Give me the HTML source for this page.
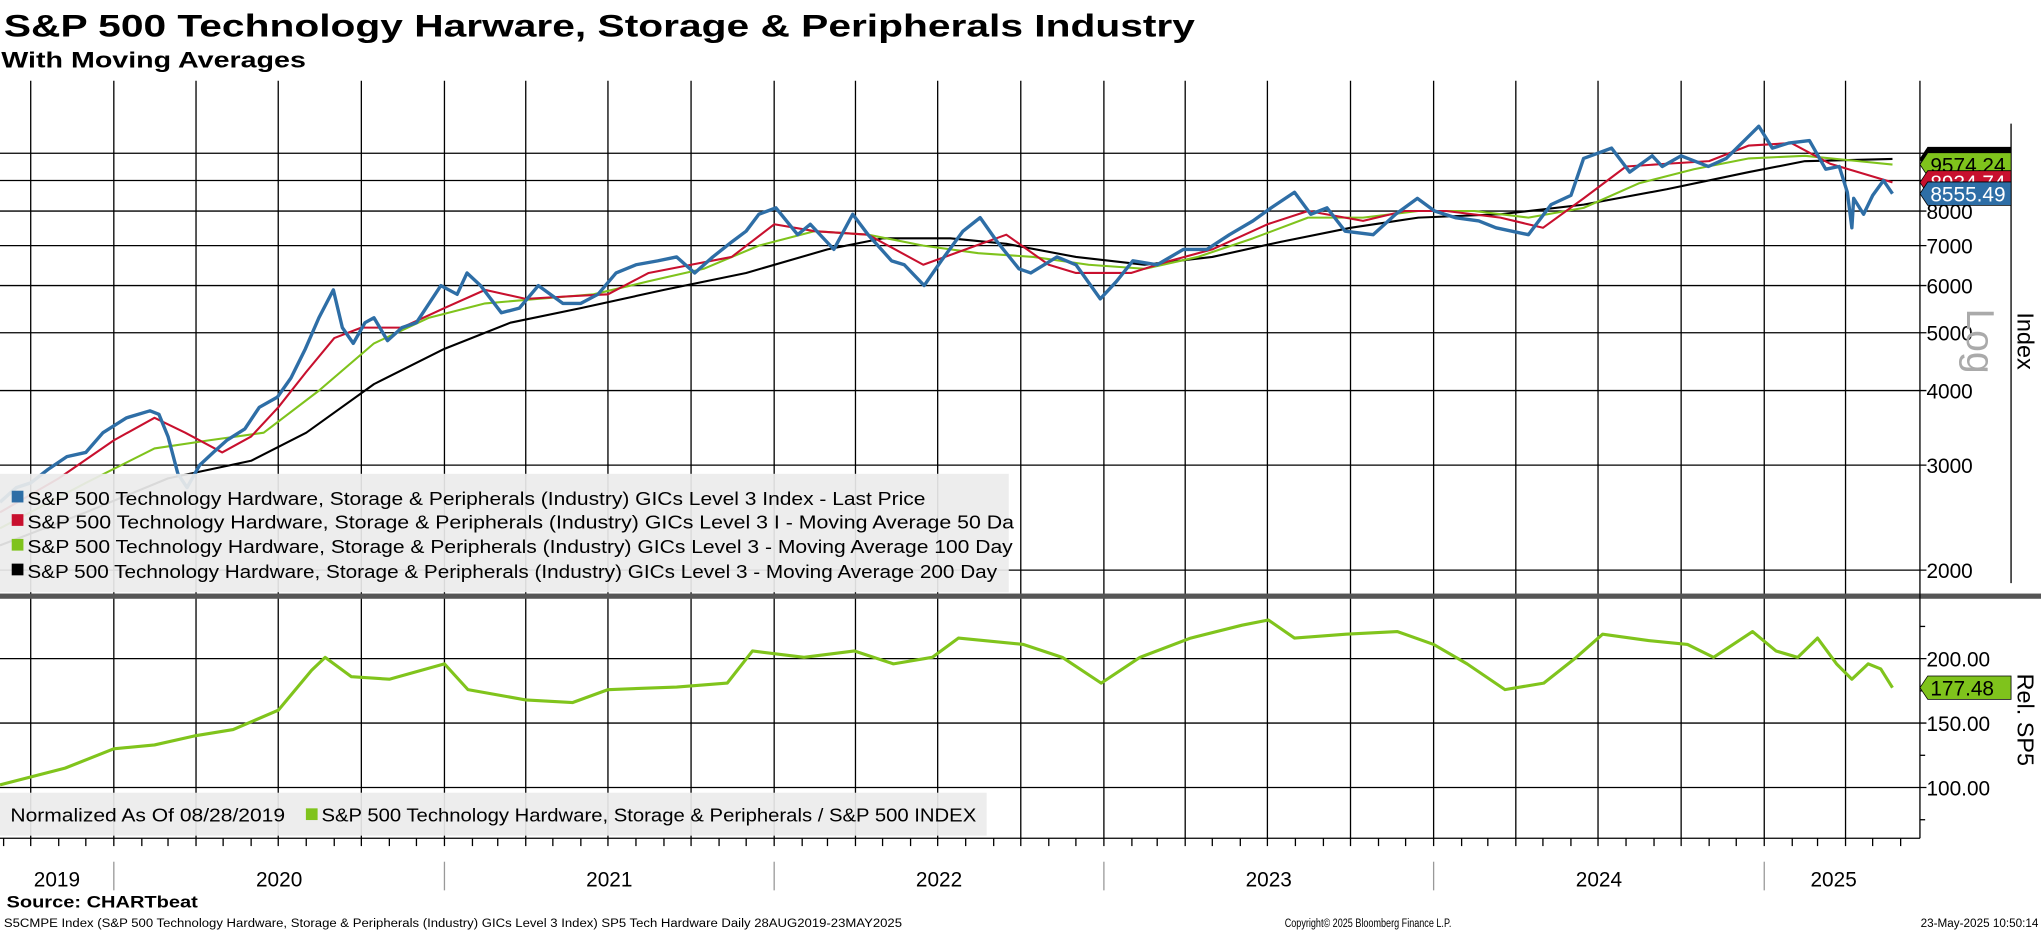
<!DOCTYPE html>
<html><head><meta charset="utf-8"><style>
html,body{margin:0;padding:0;background:#fff;}
svg{display:block;font-family:"Liberation Sans",sans-serif;}
</style></head><body>
<svg id="chart" width="2041" height="932" viewBox="0 0 1568 716" preserveAspectRatio="none" xmlns="http://www.w3.org/2000/svg">
<text x="3" y="28" font-size="24" font-weight="bold" textLength="915" lengthAdjust="spacingAndGlyphs">S&amp;P 500 Technology Harware, Storage &amp; Peripherals Industry</text>
<text x="1" y="52" font-size="17" font-weight="bold" textLength="234" lengthAdjust="spacingAndGlyphs">With Moving Averages</text>
<g id="grid"></g>
<g id="series"></g>
<rect x="0" y="456" width="1568" height="4" fill="#555"/>
<line x1="1475" y1="62" x2="1475" y2="644" stroke="#000" stroke-width="1"/>
<line x1="1545" y1="95" x2="1545" y2="448" stroke="#000" stroke-width="1"/>
<g id="labels"></g>
<text transform="translate(1511,262) rotate(90)" font-size="30" fill="#aaa" text-anchor="middle">Log</text>
<text transform="translate(1550,262) rotate(90)" font-size="18" text-anchor="middle">Index</text>
<text transform="translate(1550,553) rotate(90)" font-size="18" text-anchor="middle">Rel. SP5</text>
<g id="tags"></g>
<g>
<rect x="0" y="364" width="775" height="91" fill="#ececec" opacity="0.92"/>
<g><rect x="9" y="377" width="9" height="9" fill="#2e6ea6"/><text x="21" y="388" font-size="14.5" textLength="690" lengthAdjust="spacingAndGlyphs">S&amp;P 500 Technology Hardware, Storage &amp; Peripherals (Industry) GICs Level 3 Index - Last Price</text></g>
<g><rect x="9" y="395" width="9" height="9" fill="#c8102e"/><text x="21" y="406" font-size="14.5" textLength="758" lengthAdjust="spacingAndGlyphs">S&amp;P 500 Technology Hardware, Storage &amp; Peripherals (Industry) GICs Level 3 I - Moving Average 50 Da</text></g>
<g><rect x="9" y="414" width="9" height="9" fill="#7fc31c"/><text x="21" y="425" font-size="14.5" textLength="757" lengthAdjust="spacingAndGlyphs">S&amp;P 500 Technology Hardware, Storage &amp; Peripherals (Industry) GICs Level 3 - Moving Average 100 Day</text></g>
<g><rect x="9" y="433" width="9" height="9" fill="#000"/><text x="21" y="444" font-size="14.5" textLength="745" lengthAdjust="spacingAndGlyphs">S&amp;P 500 Technology Hardware, Storage &amp; Peripherals (Industry) GICs Level 3 - Moving Average 200 Day</text></g>
</g>
<g>
<rect x="0" y="609" width="758" height="33" fill="#ececec" opacity="0.92"/>
<text x="8" y="631" font-size="14.5" textLength="211" lengthAdjust="spacingAndGlyphs">Normalized As Of 08/28/2019</text>
<rect x="235" y="621" width="9" height="9" fill="#7fc31c"/>
<text x="247" y="631" font-size="14.5" textLength="503" lengthAdjust="spacingAndGlyphs">S&amp;P 500 Technology Hardware, Storage &amp; Peripherals / S&amp;P 500 INDEX</text>
</g>
<text x="5" y="697" font-size="13" font-weight="bold" textLength="147" lengthAdjust="spacingAndGlyphs">Source: CHARTbeat</text>
<text x="3" y="712" font-size="9" textLength="690" lengthAdjust="spacingAndGlyphs">S5CMPE Index (S&amp;P 500 Technology Hardware, Storage &amp; Peripherals (Industry) GICs Level 3 Index) SP5 Tech Hardware  Daily 28AUG2019-23MAY2025</text>
<text x="987" y="712" font-size="9" textLength="128" lengthAdjust="spacingAndGlyphs">Copyright© 2025 Bloomberg Finance L.P.</text>
<text x="1566" y="712" font-size="9" text-anchor="end">23-May-2025 10:50:14</text>
</svg>
<script>
const priceDates=["2019-08-28","2019-09-15","2019-10-01","2019-10-20","2019-11-10","2019-12-01","2019-12-20","2020-01-15","2020-02-10","2020-02-20","2020-03-01","2020-03-12","2020-03-22","2020-04-05","2020-04-20","2020-05-05","2020-05-25","2020-06-10","2020-06-30","2020-07-15","2020-07-31","2020-08-15","2020-08-31","2020-09-10","2020-09-22","2020-10-05","2020-10-15","2020-10-30","2020-11-15","2020-12-01","2020-12-28","2021-01-15","2021-01-26","2021-02-10","2021-03-05","2021-03-25","2021-04-15","2021-05-12","2021-06-01","2021-06-20","2021-07-10","2021-08-01","2021-08-25","2021-09-15","2021-10-05","2021-10-25","2021-11-15","2021-12-01","2021-12-15","2022-01-03","2022-01-27","2022-02-10","2022-03-08","2022-03-29","2022-04-15","2022-05-11","2022-05-25","2022-06-16","2022-07-05","2022-07-29","2022-08-17","2022-09-05","2022-09-29","2022-10-12","2022-11-10","2022-12-01","2022-12-28","2023-01-15","2023-02-02","2023-03-01","2023-03-30","2023-04-25","2023-05-20","2023-06-15","2023-07-05","2023-07-31","2023-08-18","2023-09-05","2023-09-25","2023-10-26","2023-11-20","2023-12-14","2024-01-02","2024-01-25","2024-02-20","2024-03-10","2024-04-15","2024-05-10","2024-06-01","2024-06-15","2024-07-16","2024-08-05","2024-08-30","2024-09-10","2024-10-01","2024-10-31","2024-11-20","2024-12-10","2024-12-26","2025-01-10","2025-01-28","2025-02-20","2025-03-10","2025-03-25","2025-04-03","2025-04-08","2025-04-10","2025-04-21","2025-05-01","2025-05-13","2025-05-23"];
const priceValues=[2600,2750,2800,2950,3100,3150,3400,3600,3700,3650,3350,2900,2750,3000,3150,3300,3450,3750,3900,4200,4700,5300,5900,5100,4800,5200,5300,4850,5100,5200,6000,5800,6300,6000,5400,5500,6000,5600,5600,5800,6300,6500,6600,6700,6300,6700,7100,7400,7900,8100,7300,7600,6900,7900,7300,6600,6500,6000,6600,7400,7800,7100,6400,6300,6700,6500,5700,6100,6600,6500,6900,6900,7300,7700,8100,8600,7900,8100,7400,7300,7900,8400,8000,7800,7700,7500,7300,8200,8500,9800,10200,9300,9900,9500,9900,9500,9800,10500,11100,10200,10400,10500,9400,9500,8600,7500,8400,7900,8500,9000,8555];
const ma50Dates=["2019-08-28","2019-11-01","2020-01-01","2020-02-15","2020-03-20","2020-04-30","2020-06-01","2020-07-01","2020-08-01","2020-09-01","2020-10-01","2020-11-15","2021-01-01","2021-02-15","2021-04-01","2021-05-15","2021-07-01","2021-08-15","2021-10-01","2021-11-15","2022-01-01","2022-02-15","2022-04-15","2022-06-15","2022-08-01","2022-09-15","2022-11-01","2022-12-01","2023-01-31","2023-03-15","2023-05-01","2023-07-01","2023-08-15","2023-10-15","2023-11-30","2024-01-15","2024-03-15","2024-05-01","2024-06-15","2024-08-01","2024-09-15","2024-11-01","2024-12-15","2025-01-31","2025-03-15","2025-05-23"];
const ma50Values=[2500,2850,3300,3600,3400,3150,3350,3750,4300,4900,5100,5100,5500,5900,5700,5750,5800,6300,6500,6700,7600,7400,7300,6500,6900,7300,6500,6300,6300,6600,6900,7600,8000,7700,8000,8000,7800,7500,8400,9500,9600,9700,10300,10400,9600,8935];
const ma100Dates=["2019-08-28","2019-12-01","2020-02-15","2020-04-15","2020-06-15","2020-08-15","2020-10-15","2020-12-15","2021-02-15","2021-04-15","2021-06-15","2021-08-15","2021-10-15","2021-12-15","2022-02-15","2022-04-15","2022-06-15","2022-08-15","2022-10-15","2022-12-15","2023-02-15","2023-04-15","2023-06-15","2023-08-15","2023-10-15","2023-12-15","2024-02-15","2024-04-15","2024-06-15","2024-08-15","2024-10-15","2024-12-15","2025-02-15","2025-04-15","2025-05-23"];
const ma100Values=[2350,2800,3200,3300,3400,4000,4800,5300,5600,5700,5800,6100,6400,7000,7400,7300,7000,6800,6700,6500,6400,6700,7200,7800,7800,8000,8000,7800,8100,8900,9400,9800,9900,9700,9574];
const ma200Dates=["2019-08-28","2019-12-01","2020-03-01","2020-06-01","2020-08-01","2020-10-15","2021-01-01","2021-03-15","2021-06-01","2021-09-01","2021-12-01","2022-03-01","2022-05-01","2022-07-15","2022-09-15","2022-12-01","2023-02-15","2023-05-01","2023-07-15","2023-10-01","2023-12-15","2024-03-15","2024-06-15","2024-09-15","2024-12-15","2025-02-15","2025-05-23"];
const ma200Values=[2200,2500,2850,3050,3400,4100,4700,5200,5500,5900,6300,6900,7200,7200,7050,6700,6500,6700,7100,7500,7800,7900,8200,8700,9300,9700,9780];
const relDates=["2019-08-28","2019-11-08","2020-01-01","2020-02-15","2020-03-30","2020-05-12","2020-07-01","2020-08-07","2020-08-22","2020-09-20","2020-11-01","2021-01-01","2021-01-27","2021-04-01","2021-05-23","2021-07-01","2021-09-15","2021-11-10","2021-12-08","2022-02-03","2022-03-31","2022-05-13","2022-06-25","2022-07-24","2022-10-04","2022-11-16","2022-12-29","2023-02-10","2023-04-07","2023-06-03","2023-07-02","2023-07-31","2023-09-26","2023-11-22","2024-01-01","2024-02-07","2024-03-20","2024-05-02","2024-06-07","2024-07-06","2024-08-26","2024-10-08","2024-11-06","2024-12-19","2025-01-14","2025-02-07","2025-03-01","2025-03-22","2025-04-08","2025-04-26","2025-05-10","2025-05-23"];
const relValues=[102,115,130,133,140,145,160,191,201,186,184,196,176,168,166,176,178,181,206,201,206,196,201,216,211,201,181,201,216,226,230,216,219,221,211,196,176,181,201,219,214,211,201,221,206,201,216,196,184,196,192,177.5];
const upperTicks=[2000,3000,4000,5000,6000,7000,8000,9000,10000];
const upperTickLabels=["2000","3000","4000","5000","6000","7000","8000","",""];
const lowerTicks=[100,150,200];
const lowerTickLabels=["100.00","150.00","200.00"];
const lowerMinorTicks=[75,125,175,225];
const yearLabels=["2019","2020","2021","2022","2023","2024","2025"];
const lastValues=[9780,9574.24,8934.74,8555.49];
const lastRel=177.48;

const NS="http://www.w3.org/2000/svg";
const t0=Date.parse("2019-08-28"),DAY=86400000,PXD=0.694;
function xs(d){return (Date.parse(d)-t0)/DAY*PXD;}
function yU(v){return 438-199*Math.log(v/2000);}
function yL(v){return 605-(v-100)*0.99;}
function mk(tag,attrs,parent){const e=document.createElementNS(NS,tag);for(const k in attrs)e.setAttribute(k,attrs[k]);parent.appendChild(e);return e;}
const grid=document.getElementById('grid'),series=document.getElementById('series'),labels=document.getElementById('labels'),tags=document.getElementById('tags');
for(let y=2019;y<=2025;y++){for(const m of ["01","04","07","10"]){const d=y+"-"+m+"-01";const x=xs(d);if(x<0||x>1470)continue;
const l=mk('line',{x1:x,y1:62,x2:x,y2:644,stroke:'#000','stroke-width':1},grid);

}}
for(let y=2019;y<=2025;y++){for(let m=1;m<=12;m++){const d=y+"-"+String(m).padStart(2,"0")+"-01";const x=xs(d);if(x<0||x>1470)continue;
const l=mk('line',{x1:x,y1:644,x2:x,y2:650,stroke:'#000','stroke-width':1},grid);

}}
mk('line',{x1:0,y1:644,x2:1475,y2:644,stroke:'#000','stroke-width':1},grid);
upperTicks.forEach((v,i)=>{const y=yU(v);
const l=mk('line',{x1:0,y1:y,x2:1480,y2:y,stroke:'#000','stroke-width':1},grid);


if(upperTickLabels[i]){const t=mk('text',{x:1480,y:y+6,'font-size':16},labels);t.textContent=upperTickLabels[i];

}});
lowerTicks.forEach((v,i)=>{const y=yL(v);
const l=mk('line',{x1:0,y1:y,x2:1480,y2:y,stroke:'#000','stroke-width':1},grid);


const t=mk('text',{x:1480,y:y+6,'font-size':16},labels);t.textContent=lowerTickLabels[i];

});
lowerMinorTicks.forEach(v=>{const y=yL(v);const l=mk('line',{x1:1475,y1:y,x2:1479,y2:y,stroke:'#000'},grid);

});
for(let i=0;i<yearLabels.length;i++){const y=+yearLabels[i];const s=Math.max(0,xs(y+"-01-01"));const e=Math.min(1475,xs((y+1)+"-01-01"));
if(i>0){const l=mk('line',{x1:s,y1:662,x2:s,y2:684,stroke:'#999'},grid);

}
let cx=(s+e)/2; if(i===yearLabels.length-1) cx=(s+1462)/2;
const t=mk('text',{x:cx,y:681,'font-size':16,'text-anchor':'middle'},labels);t.textContent=yearLabels[i];

}
function path(dates,vals,yf,color,w,name){let d="";dates.forEach((dt,i)=>{d+=(i?"L":"M")+xs(dt).toFixed(1)+","+yf(vals[i]).toFixed(1);});
const p=mk('path',{d:d,fill:'none',stroke:color,'stroke-width':w,'stroke-linejoin':'round'},series);

}
path(ma200Dates,ma200Values,yU,'#000',1.6,'ma200-line');
path(ma100Dates,ma100Values,yU,'#7fc31c',1.6,'ma100-line');
path(ma50Dates,ma50Values,yU,'#c8102e',1.6,'ma50-line');
path(priceDates,priceValues,yU,'#2e6ea6',2.6,'price-line');
path(relDates,relValues,yL,'#80c41c',2.4,'relative-line');
function tag(v,yf,fill,txtColor,text,name){const y=yf(v);
const g=mk('g',{},tags);


mk('polygon',{points:`1475,${y} 1481,${y-9} 1545,${y-9} 1545,${y+9} 1481,${y+9}`,fill:fill,stroke:'#000','stroke-width':0.6},g);
if(text){const t=mk('text',{x:1483,y:y+6,'font-size':16,fill:txtColor},g);t.textContent=text;}}
tag(lastValues[0],yU,'#000','#fff','','ma200-value-tag');
tag(lastValues[1],yU,'#7fc31c','#000',lastValues[1].toFixed(2),'ma100-value-tag');
tag(lastValues[2],yU,'#c8102e','#fff',lastValues[2].toFixed(2),'ma50-value-tag');
tag(lastValues[3],yU,'#2e6ea6','#fff',lastValues[3].toFixed(2),'price-value-tag');
tag(lastRel,yL,'#7fc31c','#000',lastRel.toFixed(2),'relative-value-tag');
</script>
</body></html>
